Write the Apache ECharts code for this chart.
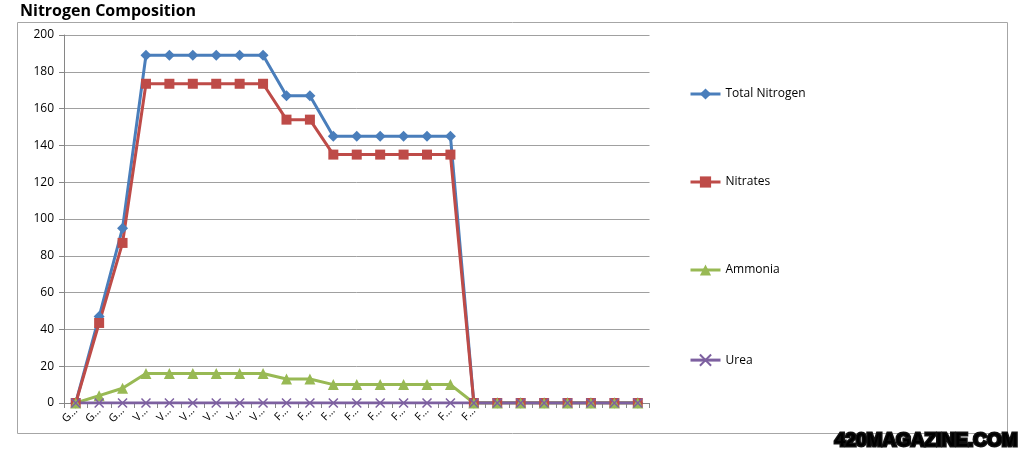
<!DOCTYPE html>
<html><head><meta charset="utf-8">
<script src="https://cdn.jsdelivr.net/npm/echarts@6/dist/echarts.min.js"></script>
<style>html,body{margin:0;padding:0;background:#fff}#c{width:1023px;height:455px}</style>
</head><body><div id="c"></div>
<script>
var categories = ['G…','G…','G…','V…','V…','V…','V…','V…','V…','F…','F…','F…','F…','F…','F…','F…','F…','F…','','','','','','',''];
var totalNitrogen = [0,47,95,189,189,189,189,189,189,167,167,145,145,145,145,145,145,0,0,0,0,0,0,0,0];
var nitrates = [0,43.5,87,173.5,173.5,173.5,173.5,173.5,173.5,154,154,135,135,135,135,135,135,0,0,0,0,0,0,0,0];
var ammonia = [0,4,8,16,16,16,16,16,16,13,13,10,10,10,10,10,10,0,0,0,0,0,0,0,0];
var urea = [0,0,0,0,0,0,0,0,0,0,0,0,0,0,0,0,0,0,0,0,0,0,0,0,0];
var yTicks = {min:0, max:200, interval:20};

var chart = echarts.init(document.getElementById('c'));
function s(name, data, color, symbol, size){
  return {name:name, type:'line', data:data, symbol:symbol, symbolSize:size,
    lineStyle:{color:color, width:3}, itemStyle:{color:color, borderWidth:0},
    showAllSymbol:true, animation:false, z:2};
}
chart.setOption({
  animation:false,
  textStyle:{fontFamily:'Open Sans, Liberation Sans, sans-serif'},
  graphic:[
    {type:'rect', shape:{x:17.5,y:22.5,width:990,height:411}, style:{fill:'none', stroke:'#a6a6a6', lineWidth:1}, z:-1},
    {type:'text', left:20, top:3, style:{text:'Nitrogen Composition', font:'bold 16px "Open Sans", sans-serif', fill:'#000'}},
    {type:'text', right:4, bottom:3, style:{text:'420MAGAZINE.COM', font:'bold 19px "Liberation Sans", sans-serif',
      fill:new echarts.graphic.LinearGradient(0,0,0,1,[{offset:0,color:'#e8f5b0'},{offset:1,color:'#6aa020'}]), stroke:'#111', lineWidth:3}, z:10}
  ],
  grid:{left:64, top:35, width:585.5, height:368, containLabel:false},
  legend:{orient:'vertical', left:684, top:83, itemGap:76, itemWidth:30, itemHeight:14,
    lineStyle:{width:3},
    textStyle:{fontSize:12, color:'#000'},
    data:['Total Nitrogen','Nitrates','Ammonia','Urea']},
  xAxis:{type:'category', data:categories, boundaryGap:true,
    axisLine:{lineStyle:{color:'#868686'}}, axisTick:{show:true, alignWithLabel:false, interval:0, lineStyle:{color:'#868686'}},
    axisLabel:{interval:0, rotate:45, fontSize:11, color:'#000', margin:6}},
  yAxis:{type:'value', min:yTicks.min, max:yTicks.max, interval:yTicks.interval,
    axisLine:{show:true, lineStyle:{color:'#868686'}}, axisTick:{show:true, length:5, lineStyle:{color:'#868686'}},
    splitLine:{lineStyle:{color:'#a0a0a0'}},
    axisLabel:{fontSize:12, color:'#000', margin:10}},
  series:[
    s('Total Nitrogen', totalNitrogen, '#4a7ebb', 'diamond', 11),
    s('Nitrates', nitrates, '#be4b48', 'rect', 10),
    s('Ammonia', ammonia, '#98b954', 'triangle', 11),
    s('Urea', urea, '#7d60a0', 'path://M0,0L10,10M10,0L0,10', 9)
  ]
});
chart.setOption({series:[{},{},{},{itemStyle:{color:'none', borderColor:'#7d60a0', borderWidth:1.5}}]});
</script></body></html>
